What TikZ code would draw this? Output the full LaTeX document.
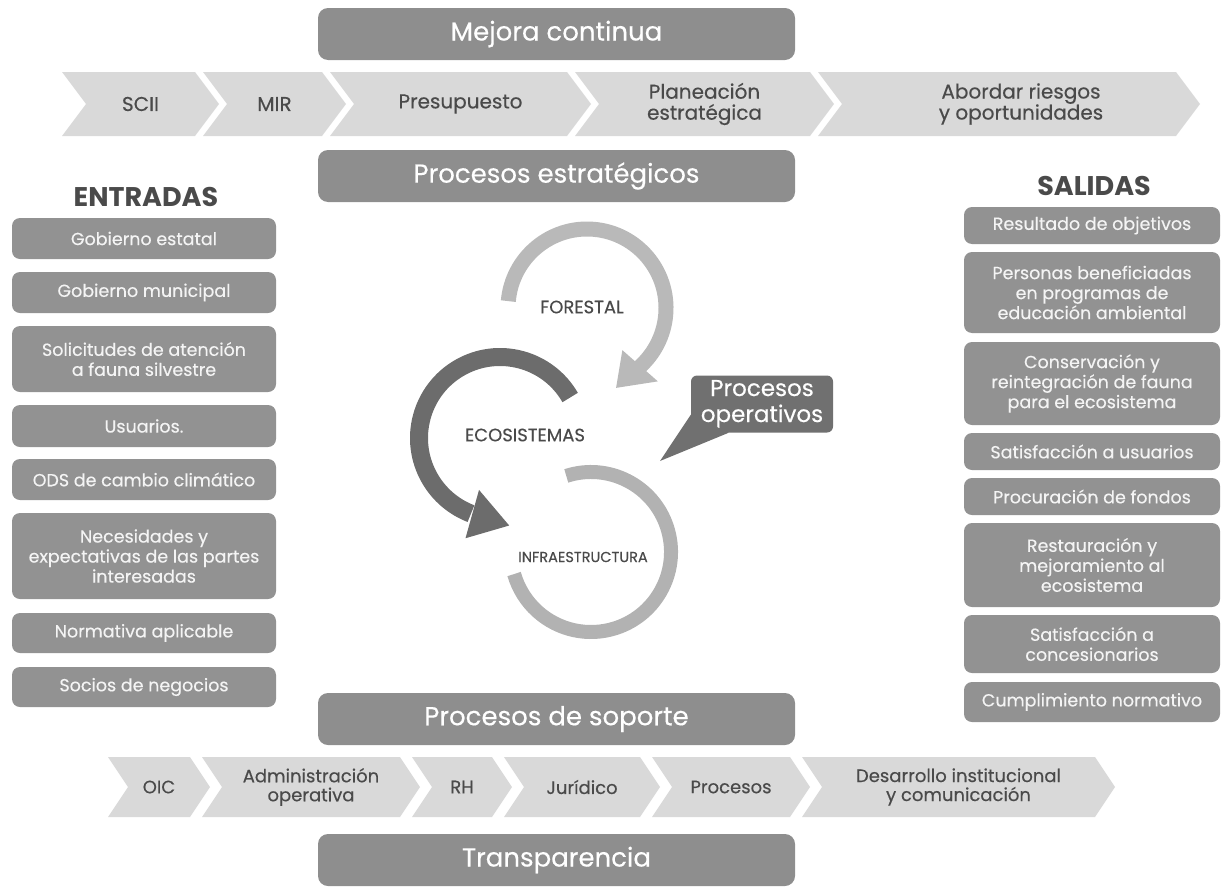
\documentclass[tikz,border=0pt]{standalone}
\usepackage{fontspec}
\setmainfont{Poppins}
\newfontfamily\popmed[FakeBold=0.35]{Poppins}
\usetikzlibrary{calc}
\definecolor{barc}{HTML}{8E8E8E}
\definecolor{chevc}{HTML}{D9D9D9}
\definecolor{chevtxt}{HTML}{4A4A4A}
\definecolor{boxc}{HTML}{929292}
\definecolor{boxtxt}{HTML}{F4F4F4}
\definecolor{headc}{HTML}{4A4A4A}
\definecolor{forc}{HTML}{B9B9B9}
\definecolor{ecoc}{HTML}{6C6C6C}
\definecolor{infc}{HTML}{B2B2B2}
\definecolor{callc}{HTML}{707070}
\newcommand\chevron[8]{% name, xl, xr, yt, yb, d, style, text
  \fill[chevc] (#2,#4) -- (#3,#4) -- ({#3+#6},{(#4+#5)/2}) -- (#3,#5) -- (#2,#5) -- ({#2+#6},{(#4+#5)/2}) -- cycle;
  \node[#7] (#1) at ({(#2+#3+#6)/2},{(#4+#5)/2}) {#8};}
\begin{document}
\begin{tikzpicture}[x=1pt,y=-1pt,
  bar/.style={fill=barc, rounded corners=10pt, minimum width=477pt, minimum height=52pt, inner sep=0pt, text=white, font=\popmed\fontsize{26}{28}\selectfont},
  sidebox/.style={fill=boxc, rounded corners=8pt, inner sep=0pt, text=boxtxt, align=center, font=\popmed\fontsize{17.5}{20}\selectfont},
  lbox/.style={sidebox, minimum width=264pt},
  rbox/.style={sidebox, minimum width=256pt},
  chevtext/.style={text=chevtxt, align=center, font=\popmed\fontsize{20}{21}\selectfont},
  bchevtext/.style={text=chevtxt, align=center, font=\popmed\fontsize{18}{19}\selectfont},
  head/.style={text=headc, font=\fontsize{27}{30}\selectfont\bfseries},
  ctext/.style={text=headc, font=\popmed\fontsize{18}{20}\selectfont},
  callout/.style={fill=callc, rounded corners=6pt, minimum width=142pt, minimum height=57pt, inner sep=0pt, text=white, align=center, font=\popmed\fontsize{23}{26}\selectfont},
]
\useasboundingbox (0,0) rectangle (1222,886);
% bars
\node[bar] (mejora) at (556.5,34) {Mejora continua};
\node[bar] (estrat) at (556.5,176) {Procesos estratégicos};
\node[bar] (soporte) at (556.5,719) {Procesos de soporte};
\node[bar] (transp) at (556.5,860) {Transparencia};
% top chevrons
\chevron{scii}{62}{195}{72}{136}{24}{chevtext}{SCII}
\chevron{mir}{203}{322}{72}{136}{24}{chevtext}{MIR}
\chevron{presu}{330}{567}{72}{136}{24}{chevtext}{Presupuesto}
\chevron{plan}{575}{810}{72}{136}{24}{chevtext}{Planeación\\estratégica}
\chevron{riesgos}{818}{1176}{72}{136}{24}{chevtext, xshift=12pt}{Abordar riesgos\\y oportunidades}
% bottom chevrons
\chevron{oic}{108}{190}{757}{817}{20}{bchevtext}{OIC}
\chevron{admin}{202}{400}{757}{817}{20}{bchevtext}{Administración\\operativa}
\chevron{rh}{412}{492}{757}{817}{20}{bchevtext}{RH}
\chevron{jur}{504}{640}{757}{817}{20}{bchevtext}{Jurídico}
\chevron{proc}{652}{790}{757}{817}{20}{bchevtext}{Procesos}
\chevron{desa}{802}{1095}{757}{817}{20}{bchevtext}{Desarrollo institucional\\y comunicación}
% headings
\node[head] (entradas) at (146,197) {ENTRADAS};
\node[head] (salidas) at (1094,186) {SALIDAS};
% left boxes
\node[lbox, minimum height=41pt] (e1) at (144,238.5) {Gobierno estatal};
\node[lbox, minimum height=41pt] (e2) at (144,292.5) {Gobierno municipal};
\node[lbox, minimum height=66pt] (e3) at (144,359) {Solicitudes de atención\\a fauna silvestre};
\node[lbox, minimum height=42pt] (e4) at (144,426) {Usuarios.};
\node[lbox, minimum height=41pt] (e5) at (144,479.5) {ODS de cambio climático};
\node[lbox, minimum height=86pt] (e6) at (144,556) {Necesidades y\\expectativas de las partes\\interesadas};
\node[lbox, minimum height=40pt] (e7) at (144,633) {Normativa aplicable};
\node[lbox, minimum height=40pt] (e8) at (144,687) {Socios de negocios};
% right boxes
\node[rbox, minimum height=37pt] (s1) at (1092,225.5) {Resultado de objetivos};
\node[rbox, minimum height=81pt] (s2) at (1092,292.5) {Personas beneficiadas\\en programas de\\educación ambiental};
\node[rbox, minimum height=83pt] (s3) at (1092,383.5) {Conservación y\\reintegración de fauna\\para el ecosistema};
\node[rbox, minimum height=37pt] (s4) at (1092,451.5) {Satisfacción a usuarios};
\node[rbox, minimum height=37pt] (s5) at (1092,496.5) {Procuración de fondos};
\node[rbox, minimum height=84pt] (s6) at (1092,565) {Restauración y\\mejoramiento al\\ecosistema};
\node[rbox, minimum height=58pt] (s7) at (1092,644) {Satisfacción a\\concesionarios};
\node[rbox, minimum height=40pt] (s8) at (1092,702) {Cumplimiento normativo};
% central cycle
\begin{scope}[shift={(591,552)}, y=1pt]
  \draw[infc, line width=14pt] (108:80) arc[start angle=108, end angle=-164, radius=80];
\end{scope}
\begin{scope}[shift={(587,308)}, y=1pt]
  \draw[forc, line width=15pt] (175:79) arc[start angle=175, end angle=-48, radius=79];
  \fill[forc] (-50:55) -- (-46:102) -- (-70:85) -- cycle;
\end{scope}
\begin{scope}[shift={(500,438)}, y=1pt]
  \draw[ecoc, line width=18pt] (30:81) arc[start angle=30, end angle=249, radius=81];
  \fill[ecoc] (248:56) -- (251:106) -- (276:88) -- cycle;
\end{scope}
\node[ctext] (forestal) at (582,307) {FORESTAL};
\node[ctext] (ecosis) at (525,435) {ECOSISTEMAS};
\node[ctext, font=\popmed\fontsize{14.5}{16}\selectfont] (infra) at (583,557) {INFRAESTRUCTURA};
% callout
\node[callout] (po) at (762,404) {Procesos\\operativos};
\coordinate (tailtip) at (660,461);
\fill[callc] ([yshift=18pt]po.south west) -- (tailtip) -- ([xshift=38pt]po.south west) -- cycle;
\end{tikzpicture}
\end{document}
